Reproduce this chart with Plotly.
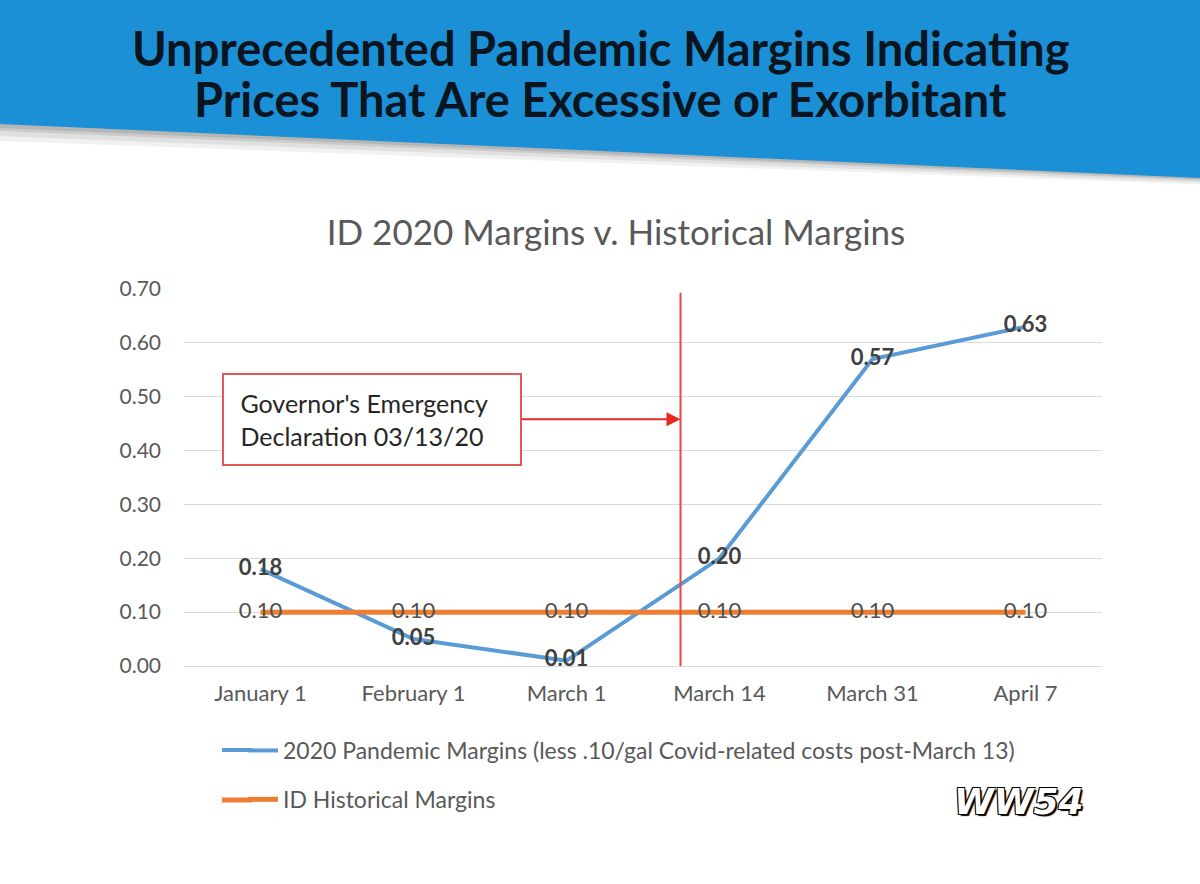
import plotly.graph_objects as go

# ---------------- data ----------------
categories = ["January 1", "February 1", "March 1", "March 14", "March 31", "April 7"]
pandemic_margins = [0.18, 0.05, 0.01, 0.20, 0.57, 0.63]
historical_margins = [0.10, 0.10, 0.10, 0.10, 0.10, 0.10]
pandemic_name = "2020 Pandemic Margins (less .10/gal Covid-related costs post-March 13)"
historical_name = "ID Historical Margins"
y_ticks = [0.0, 0.1, 0.2, 0.3, 0.4, 0.5, 0.6, 0.7]
declaration_pos = 2.745  # between "March 1" and "March 14"
declaration_y = 0.458
header_line1 = "Unprecedented Pandemic Margins Indicating"
header_line2 = "Prices That Are Excessive or Exorbitant"
chart_title = "ID 2020 Margins v. Historical Margins"
callout_lines = ["Governor's Emergency", "Declaration 03/13/20"]

# ---------------- layout geometry ----------------
W, H = 1200, 884
L, R, T, B = 184, 1102, 289, 666  # plot area in pixels


def px(x):
    return (x - L) / (R - L)


def py(y):
    return (B - y) / (B - T)


GRAY = "#595959"
LABEL = "#404040"
FONT = "Lato, 'Open Sans', sans-serif"
BLUE = "#5b9bd5"
ORANGE = "#ed7d31"

fig = go.Figure()

fig.add_trace(go.Scatter(
    x=categories, y=pandemic_margins, name=pandemic_name,
    mode="lines+text", line=dict(color=BLUE, width=4),
    text=[f"{v:.2f}" for v in pandemic_margins], textposition="middle center",
    textfont=dict(family=FONT, size=22, color=LABEL, weight="bold"),
    legendgroup="a", cliponaxis=False,
))
fig.add_trace(go.Scatter(
    x=categories, y=historical_margins, name=historical_name,
    mode="lines+text", line=dict(color=ORANGE, width=5),
    text=[f"{v:.2f}" for v in historical_margins], textposition="middle center",
    textfont=dict(family=FONT, size=22, color="#505050"),
    legendgroup="b", cliponaxis=False,
))

shapes = []
# header banner shadow layers
for off, op in [(16, 0.10), (11, 0.14), (6, 0.20), (3, 0.25)]:
    shapes.append(dict(
        type="path", xref="paper", yref="paper", layer="below",
        path=(f"M {px(0)},{py(0)} L {px(W)},{py(0)} L {px(W)},{py(178 + off * 0.4)} "
              f"L {px(0)},{py(125 + off)} Z"),
        fillcolor=f"rgba(120,120,120,{op})", line=dict(width=0),
    ))
shapes.append(dict(
    type="path", xref="paper", yref="paper", layer="below",
    path=(f"M {px(0)},{py(0)} L {px(W)},{py(0)} L {px(W)},{py(178)} "
          f"L {px(0)},{py(124)} Z"),
    fillcolor="#1b90d6", line=dict(width=0),
))
# declaration vertical line
shapes.append(dict(
    type="line", xref="x", yref="y", x0=declaration_pos, x1=declaration_pos,
    y0=-0.012, y1=0.693, line=dict(color="#e8463f", width=2), layer="above",
))
# lengthen legend line samples (reference samples are ~60px long)
for yy, col in [(750, BLUE), (800, ORANGE)]:
    shapes.append(dict(
        type="line", xref="paper", yref="paper", x0=px(222), x1=px(252),
        y0=py(yy), y1=py(yy), line=dict(color=col, width=4 if col == BLUE else 5),
    ))

annotations = [
    dict(text=f"<b>{header_line1}</b>", xref="paper", yref="paper",
         x=px(601), y=py(48), showarrow=False, xanchor="center", yanchor="middle",
         font=dict(family=FONT, size=47, color="#0a1520")),
    dict(text=f"<b>{header_line2}</b>", xref="paper", yref="paper",
         x=px(600), y=py(99), showarrow=False, xanchor="center", yanchor="middle",
         font=dict(family=FONT, size=47, color="#0a1520")),
    dict(text="<br>".join("&nbsp;" + s for s in callout_lines),
         xref="x", yref="y", x=declaration_pos, y=declaration_y,
         ax=372 - 680, ay=0, axref="pixel", ayref="pixel",
         showarrow=True, arrowhead=2, arrowsize=1.4, arrowwidth=2, arrowcolor="#e8281e",
         standoff=0, align="left", width=276, height=69, borderpad=10,
         bordercolor="#e05a55", borderwidth=2, bgcolor="white",
         font=dict(family=FONT, size=25, color="#262626")),
    dict(text="<b><i>WW54</i></b>", xref="paper", yref="paper",
         x=px(1019), y=py(801), showarrow=False, xanchor="center", yanchor="middle",
         font=dict(family="DejaVu Sans", size=36, color="white",
                   shadow="2px 2px 1px #000, -1px -1px 0 #000, 1px -1px 0 #000, -1px 1px 0 #000")),
]

fig.update_layout(
    width=W, height=H,
    margin=dict(l=L, r=W - R, t=T, b=H - B, autoexpand=False),
    paper_bgcolor="white", plot_bgcolor="white",
    title=dict(text=chart_title, xref="container", yref="container",
               x=616 / W, y=1 - 233 / H, xanchor="center", yanchor="middle",
               font=dict(family=FONT, size=35, color=GRAY)),
    font=dict(family=FONT, color=GRAY),
    shapes=shapes, annotations=annotations,
    showlegend=True,
    legend=dict(orientation="v", x=px(243), y=py(729), xanchor="left", yanchor="top",
                traceorder="grouped", tracegroupgap=16,
                font=dict(family=FONT, size=23, color=GRAY), bgcolor="rgba(0,0,0,0)"),
)
fig.update_xaxes(type="category", range=[-0.5, 5.5], showgrid=False, showline=False,
                 ticks="", zeroline=False, ticklabelstandoff=12,
                 tickfont=dict(family=FONT, size=22, color=GRAY))
fig.update_yaxes(range=[0, 0.7], tickvals=y_ticks, tickformat=".2f",
                 showgrid=True, gridcolor="#d9d9d9", gridwidth=1,
                 zeroline=True, zerolinecolor="#d9d9d9", zerolinewidth=1,
                 showline=False, ticks="", ticklabelstandoff=22,
                 tickfont=dict(family=FONT, size=21, color=GRAY))

fig.write_html("out.html")
